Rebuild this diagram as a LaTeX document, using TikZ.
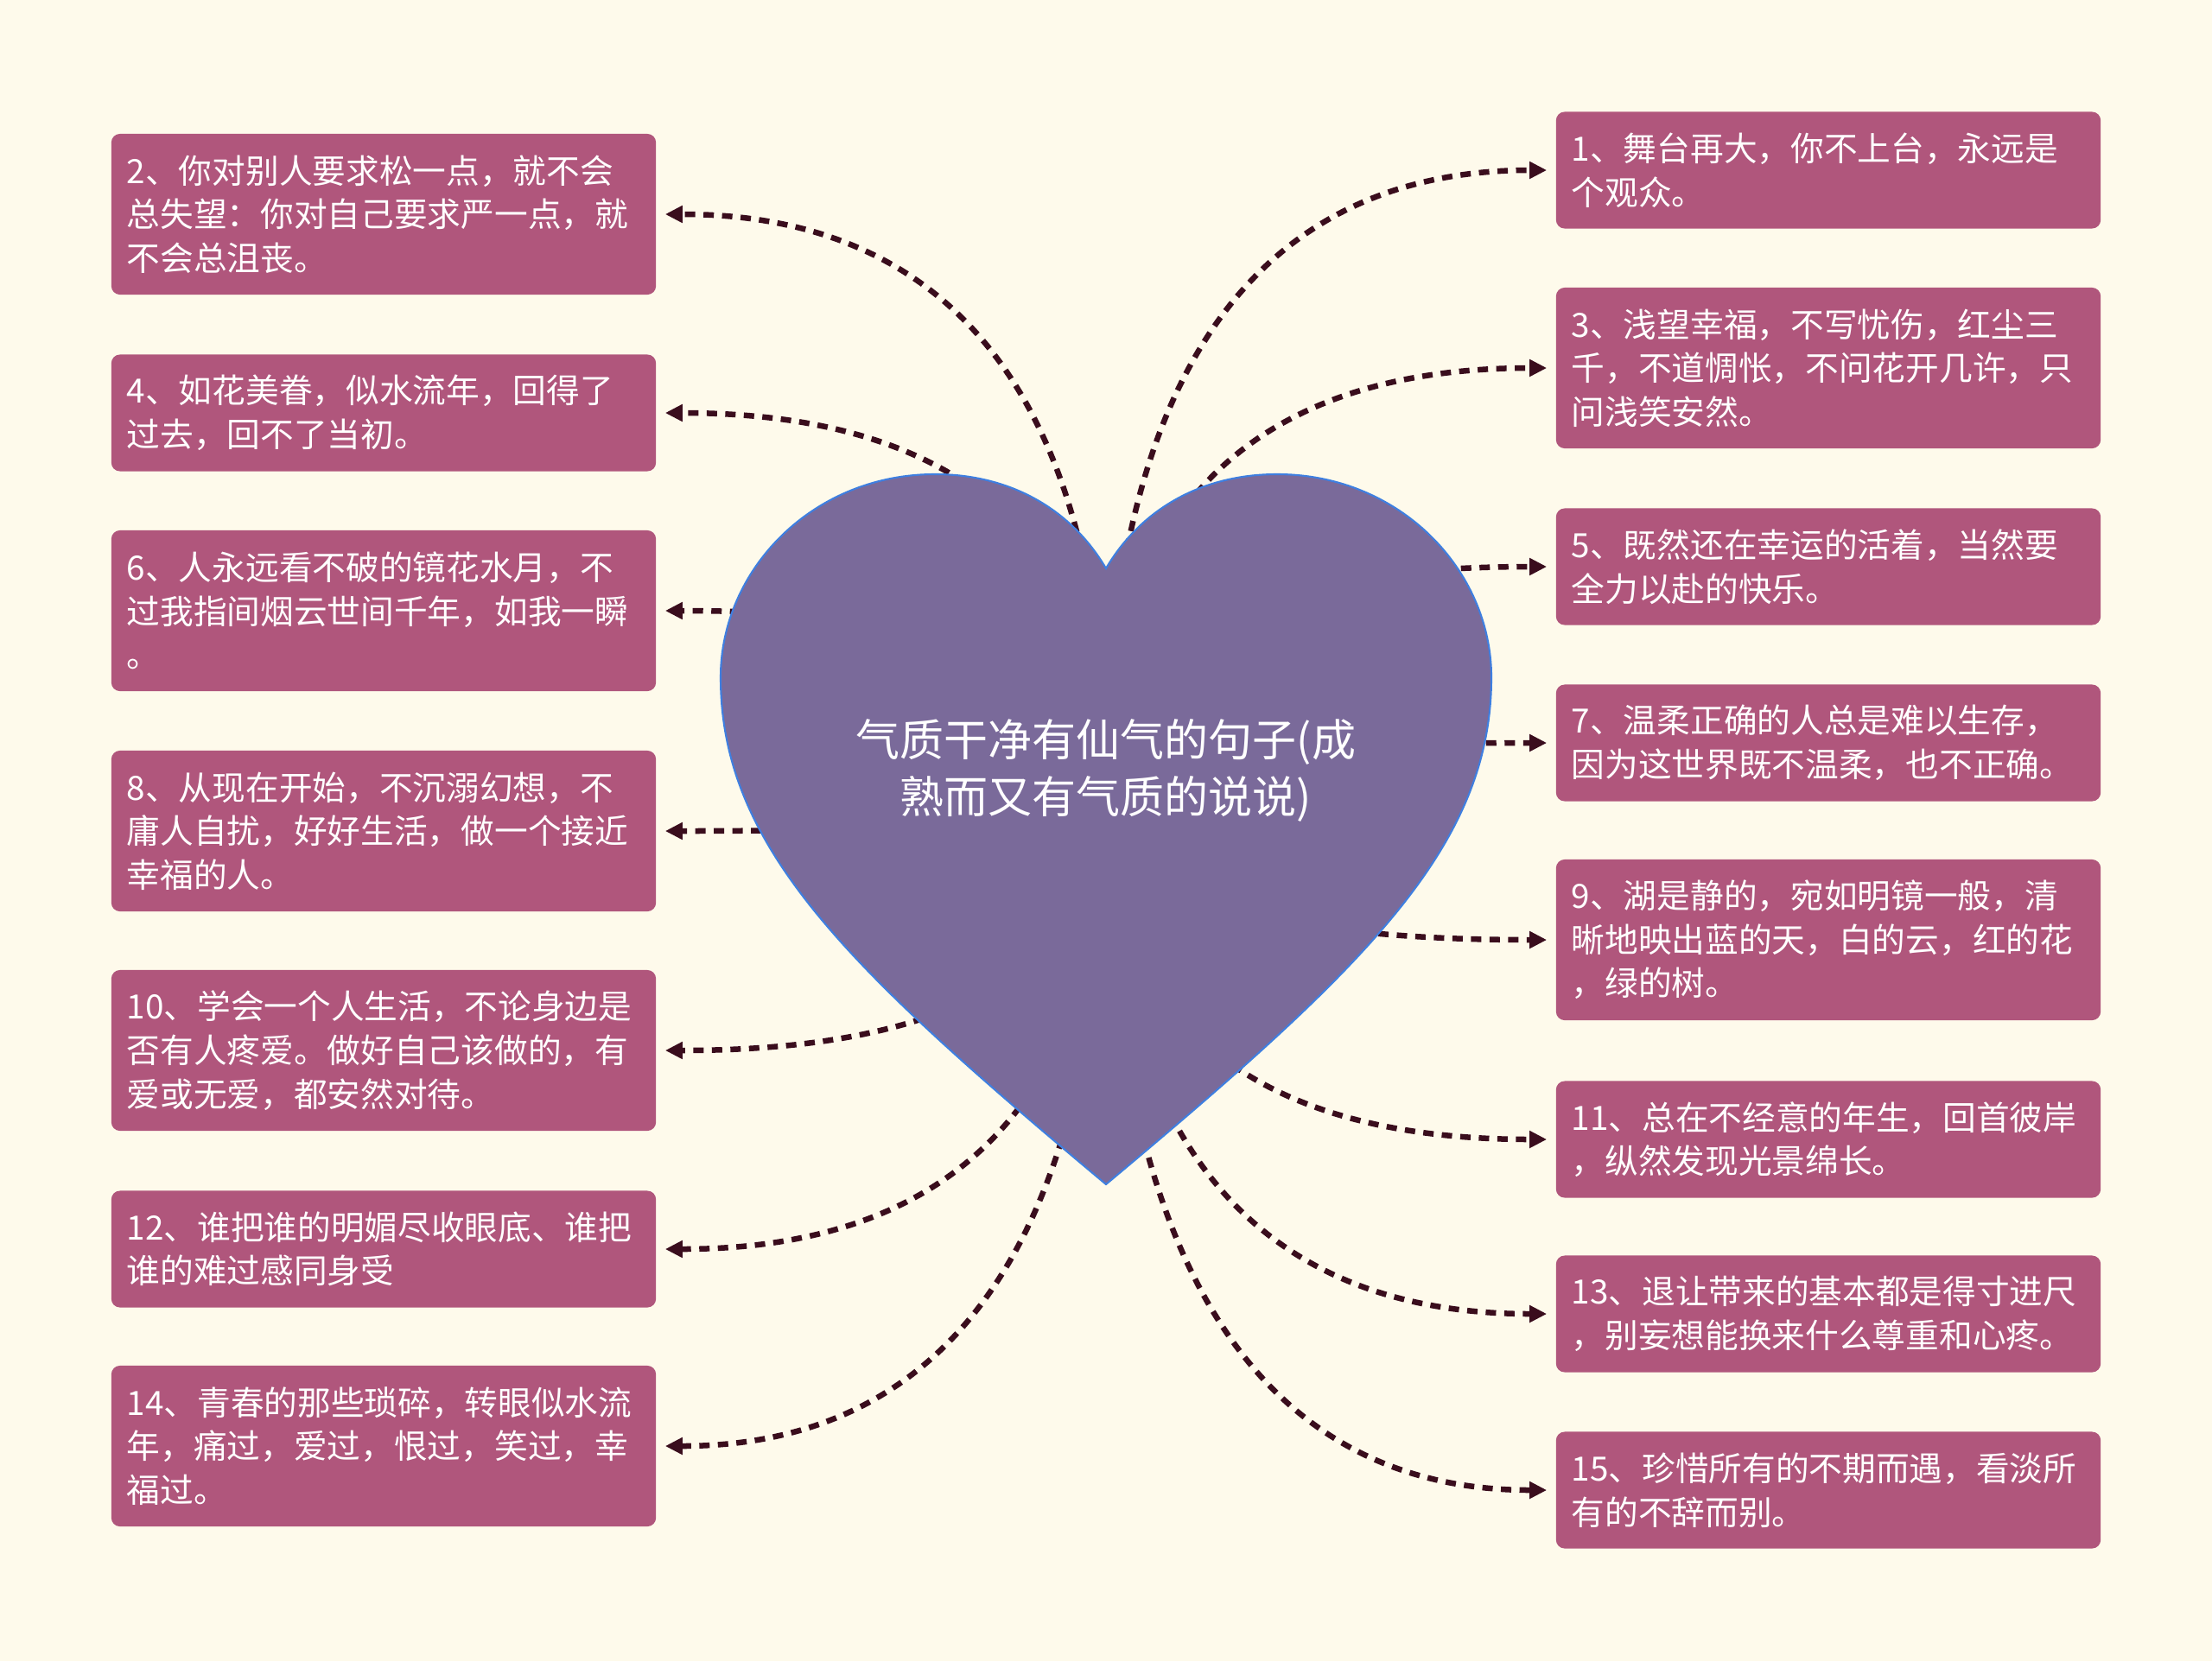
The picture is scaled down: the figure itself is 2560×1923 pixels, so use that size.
\documentclass[tikz,border=0pt]{standalone}
\usepackage{fontspec}
\newfontfamily\cjkfont{Noto Sans CJK SC}
\usetikzlibrary{arrows.meta,calc}

\definecolor{paper}{HTML}{FEFAEB}
\definecolor{rose}{HTML}{B0567C}
\definecolor{heartfill}{HTML}{7A6A9A}
\definecolor{heartline}{HTML}{3F7FE0}
\definecolor{linkcolor}{HTML}{3A0D1D}

\begin{document}
\begin{tikzpicture}[
    x=0.01cm, y=-0.01cm,
    saying/.style={
      fill=rose,
      rounded corners=0.1cm,
      text=white,
      font=\cjkfont\fontsize{11pt}{14.4pt}\selectfont,
      text width=5.94cm,
      inner xsep=0.18cm,
      inner ysep=0.1cm,
      align=left
    },
    tall/.style={saying, minimum height=1.86cm},
    short/.style={saying, minimum height=1.35cm},
    topic/.style={
      text=white,
      font=\cjkfont\fontsize{14.5pt}{19pt}\selectfont,
      align=center
    },
    link/.style={
      draw=linkcolor,
      line width=0.065cm,
      dash pattern=on 0.12cm off 0.095cm,
      -{Triangle[length=0.2cm,width=0.19cm]},
      shorten >=0.1cm,
      to path={.. controls ($(\tikztostart)!0.667!(\tikztostart |- \tikztotarget)$)
        and ($(\tikztotarget)!0.667!(\tikztostart |- \tikztotarget)$) .. (\tikztotarget)}
    }
  ]
    \fill[paper] (0,0) rectangle (2560,1923);
    \useasboundingbox (0,0) rectangle (2560,1923);

    \coordinate (root) at (1280,914);

    % right column
    \node[short] (b1) at (2116,197) {1、舞台再大，你不上台，永远是\\个观众。};
    \node[tall] (b3) at (2116,426) {3、浅望幸福，不写忧伤，红尘三\\千，不道惆怅，不问花开几许，只\\问浅笑安然。};
    \node[short] (b5) at (2116,656) {5、既然还在幸运的活着，当然要\\全力以赴的快乐。};
    \node[short] (b7) at (2116,860) {7、温柔正确的人总是难以生存，\\因为这世界既不温柔，也不正确。};
    \node[tall] (b9) at (2116,1088) {9、湖是静的，宛如明镜一般，清\\晰地映出蓝的天，白的云，红的花\\，绿的树。};
    \node[short] (b11) at (2116,1319) {11、总在不经意的年生，回首彼岸\\，纵然发现光景绵长。};
    \node[short] (b13) at (2116,1521) {13、退让带来的基本都是得寸进尺\\，别妄想能换来什么尊重和心疼。};
    \node[short] (b15) at (2116,1725) {15、珍惜所有的不期而遇，看淡所\\有的不辞而别。};

    % left column
    \node[tall] (b2) at (444,248) {2、你对别人要求松一点，就不会\\总失望：你对自己要求严一点，就\\不会总沮丧。};
    \node[short] (b4) at (444,478) {4、如花美眷，似水流年，回得了\\过去，回不了当初。};
    \node[tall] (b6) at (444,707) {6、人永远看不破的镜花水月，不\\过我指间烟云世间千年，如我一瞬\\。};
    \node[tall] (b8) at (444,962) {8、从现在开始，不沉溺幻想，不\\庸人自扰，好好生活，做一个接近\\幸福的人。};
    \node[tall] (b10) at (444,1216) {10、学会一个人生活，不论身边是\\否有人疼爱。做好自己该做的，有\\爱或无爱，都安然对待。};
    \node[short] (b12) at (444,1446) {12、谁把谁的明媚尽收眼底、谁把\\谁的难过感同身受};
    \node[tall] (b14) at (444,1674) {14、青春的那些琐碎，转眼似水流\\年，痛过，爱过，恨过，笑过，幸\\福过。};

    \foreach \n in {b1,b3,b5,b7,b9,b11,b13,b15}
      \draw[link] (root) to (\n.west);
    \foreach \n in {b2,b4,b6,b8,b10,b12,b14}
      \draw[link] (root) to (\n.east);

    % heart on top of the links
    \filldraw[fill=heartfill, draw=heartline, line width=0.6pt]
      (1280,658) .. controls (1320,590) and (1390,549) .. (1478,549)
      .. controls (1620,549) and (1726,660) .. (1726,784)
      .. controls (1726,980) and (1580,1120) .. (1280,1371)
      .. controls (980,1120) and (834,980) .. (834,784)
      .. controls (834,660) and (940,549) .. (1082,549)
      .. controls (1170,549) and (1240,590) .. cycle;

    \node[topic] (title) at (1280,892) {气质干净有仙气的句子(成\\熟而又有气质的说说)};
\end{tikzpicture}
\end{document}
